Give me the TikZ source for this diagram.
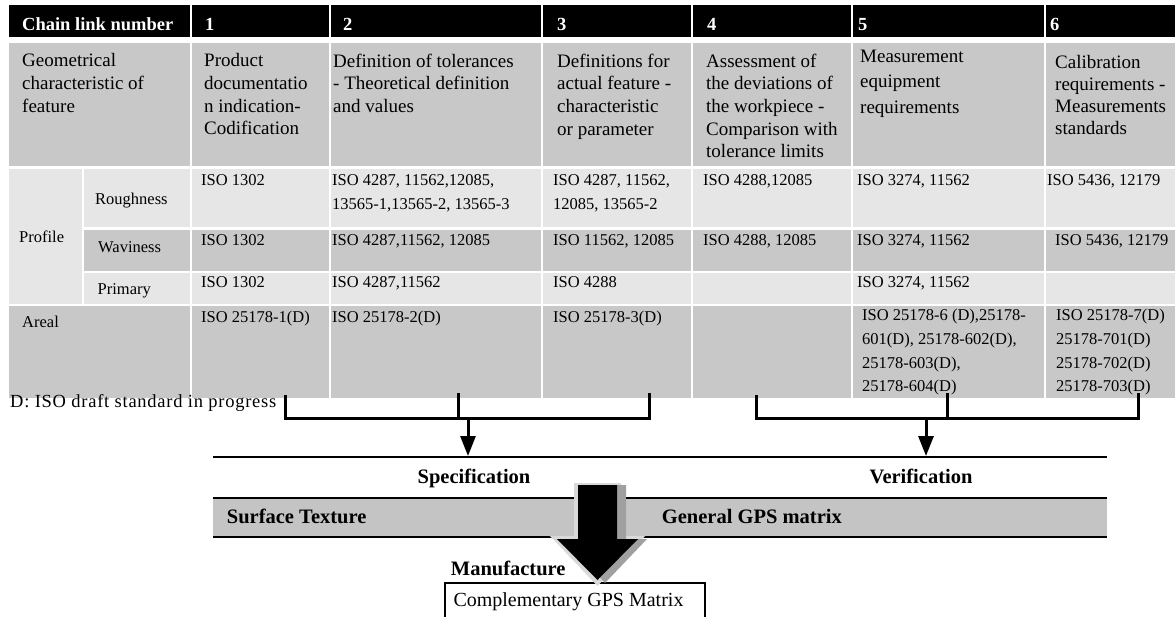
\documentclass[tikz,border=0pt]{standalone}
\usepackage{fontspec}
\setmainfont{Liberation Serif}
\usetikzlibrary{arrows.meta}
\definecolor{gA}{RGB}{200,200,200}
\definecolor{gB}{RGB}{230,230,230}
\definecolor{bandc}{RGB}{196,196,196}
\definecolor{shad}{RGB}{160,160,160}
\begin{document}
\begin{tikzpicture}[x=1pt,y=-1pt,
 hdr/.style={font=\bfseries\fontsize{18.5}{22}\selectfont,text=white,anchor=base west,inner sep=0pt},
 desc/.style={font=\fontsize{19}{22.7}\selectfont,align=left,anchor=north west,inner sep=0pt},
 iso/.style={font=\fontsize{16.5}{23.7}\selectfont,anchor=base west,inner sep=0pt},
 isom/.style={font=\fontsize{16.5}{23.7}\selectfont,align=left,anchor=north west,inner sep=0pt},
 sepline/.style={white,line width=2.5pt},
 brk/.style={line width=3pt},
 arr/.style={line width=3pt,-{Triangle[length=20pt,width=15pt]}},
 btxt/.style={font=\bfseries\fontsize{20.5}{24}\selectfont,inner sep=0pt},
]
\useasboundingbox (0,0) rectangle (1175,616);
\clip (0,0) rectangle (1175,616);
% ---------- table backgrounds
\fill[black] (9,5) rectangle (1175,37);
\fill[gA] (9,43) rectangle (1175,167);
\fill[gB] (9,168.5) rectangle (1175,304.5);
\fill[gA] (83,229) rectangle (1175,271.5);
\fill[gA] (9,305.5) rectangle (1175,398);
% separators
\foreach \x in {191,330,542,692,852,1045} \draw[sepline] (\x,4) -- (\x,399);
\draw[sepline] (83,167) -- (83,305);
\draw[sepline] (83,228.5) -- (1175,228.5);
\draw[sepline] (83,271.8) -- (1175,271.8);
\draw[sepline] (9,305) -- (1175,305);
\draw[sepline] (9,167.6) -- (1175,167.6);
% ---------- header
\node[hdr] (h0) at (22,30.5) {Chain link number};
\node[hdr] (h1) at (205,30.5) {1};
\node[hdr] (h2) at (343,30.5) {2};
\node[hdr] (h3) at (557,30.5) {3};
\node[hdr] (h4) at (707,30.5) {4};
\node[hdr] (h5) at (858,30.5) {5};
\node[hdr] (h6) at (1050,30.5) {6};
% ---------- description row
\node[desc] (d0) at (22,53.5) {Geometrical\\characteristic of\\feature};
\node[desc] (d1) at (204,53.5) {Product\\documentatio\\n indication-\\Codification};
\node[desc] (d2) at (333,53.5) {Definition of tolerances\\- Theoretical definition\\and values};
\node[desc] (d3) at (557,53.5) {Definitions for\\actual feature -\\characteristic\\or parameter};
\node[desc] (d4) at (706,53.5) {Assessment of\\the deviations of\\the workpiece -\\Comparison with\\tolerance limits};
\node[desc,font=\fontsize{19}{25.5}\selectfont] (d5) at (860,49.5) {Measurement\\equipment\\requirements};
\node[desc,font=\fontsize{19}{21.8}\selectfont] (d6) at (1055,55.5) {Calibration\\requirements -\\Measurements\\standards};
% ---------- row labels
\node[iso] (lrough) at (95,204.2) {Roughness};
\node[iso] (lprof) at (19,242.6) {Profile};
\node[iso] (lwav) at (98,252) {Waviness};
\node[iso] (lprim) at (97.5,294) {Primary};
\node[iso] (lareal) at (22,327.5) {Areal};
% ---------- roughness
\node[iso] (r1) at (201,185.5) {ISO 1302};
\node[isom] (r2) at (332,174.2) {ISO 4287, 11562,12085,\\13565-1,13565-2, 13565-3};
\node[isom] (r3) at (553,174.2) {ISO 4287, 11562,\\12085, 13565-2};
\node[iso] (r4) at (703,185.5) {ISO 4288,12085};
\node[iso] (r5) at (857,185.5) {ISO 3274, 11562};
\node[iso] (r6) at (1047,185.5) {ISO 5436, 12179};
% ---------- waviness
\node[iso] (w1) at (201,245) {ISO 1302};
\node[iso] (w2) at (332,245) {ISO 4287,11562, 12085};
\node[iso] (w3) at (553,245) {ISO 11562, 12085};
\node[iso] (w4) at (703,245) {ISO 4288, 12085};
\node[iso] (w5) at (857,245) {ISO 3274, 11562};
\node[iso] (w6) at (1055,245) {ISO 5436, 12179};
% ---------- primary
\node[iso] (p1) at (201,287) {ISO 1302};
\node[iso] (p2) at (332,287) {ISO 4287,11562};
\node[iso] (p3) at (553,287) {ISO 4288};
\node[iso] (p5) at (857,287) {ISO 3274, 11562};
% ---------- areal
\node[iso] (a1) at (201,322) {ISO 25178-1(D)};
\node[iso] (a2) at (332,322) {ISO 25178-2(D)};
\node[iso] (a3) at (553,322) {ISO 25178-3(D)};
\node[isom] (a5) at (862,309) {ISO 25178-6 (D),25178-\\601(D), 25178-602(D),\\25178-603(D),\\25178-604(D)};
\node[isom] (a6) at (1056,309) {ISO 25178-7(D)\\25178-701(D)\\25178-702(D)\\25178-703(D)};
% ---------- footnote
\node[iso,font=\fontsize{18.5}{22}\selectfont\addfontfeature{LetterSpace=4}] (fn) at (10,407.3) {D: ISO draft standard in progress};
% ---------- brackets
\coordinate (b1l) at (285,395);
\coordinate (b1m) at (458,393);
\coordinate (b1r) at (649.5,393);
\coordinate (b1bot) at (285,418.3);
\coordinate (b1end) at (649.5,418.3);
\draw[brk] (b1l) -- (b1bot) -- (b1end) -- (b1r);
\draw[brk] (b1m) -- (b1m |- b1bot);
\coordinate (b2l) at (756,395);
\coordinate (b2m) at (947,393);
\coordinate (b2r) at (1138,393);
\coordinate (b2bot) at (756,418.3);
\coordinate (b2end) at (1138,418.3);
\draw[brk] (b2l) -- (b2bot) -- (b2end) -- (b2r);
\draw[brk] (b2m) -- (b2m |- b2bot);
\coordinate (a1s) at (468,418.3);
\coordinate (a1e) at (468,456);
\coordinate (a2s) at (926,418.3);
\coordinate (a2e) at (926,456);
\draw[arr] (a1s) -- (a1e);
\draw[arr] (a2s) -- (a2e);
% ---------- line and band
\coordinate (hl) at (213,457);
\coordinate (hr) at (1107,457);
\draw[line width=2pt] (hl) -- (hr);
\node[btxt,anchor=base] (spec) at (474,483.3) {Specification};
\node[btxt,anchor=base] (verif) at (921,483.3) {Verification};
\fill[bandc] (213,498) rectangle (1107,537);
\draw[line width=2pt] (213,498) -- (1107,498);
\draw[line width=2pt] (213,537) -- (1107,537);
\node[btxt,anchor=base west] (surf) at (226.7,523.3) {Surface Texture};
\node[btxt,anchor=base west] (gen) at (661.7,523.3) {General GPS matrix};
% ---------- complementary box
\draw[line width=2.5pt] (445,630) -- (445,583) -- (705,583) -- (705,630);
\node[anchor=base west,inner sep=0pt,font=\fontsize{20}{24}\selectfont] (comp) at (453.3,606.7) {Complementary GPS Matrix};
\node[btxt,anchor=base west] (manu) at (450.7,575) {Manufacture};
% ---------- big arrow with shadow
\fill[gray!30] (574,483) -- (621,483) -- (621,536) -- (645,536) -- (597.5,586) -- (550,536) -- (574,536) -- cycle;
\fill[shad] (585,485) -- (626,485) -- (626,539) -- (647,539) -- (605,583) -- (565,539) -- (585,539) -- cycle;
\fill[black] (578,485) -- (617,485) -- (617,539) -- (638,539) -- (597.5,580) -- (557,539) -- (578,539) -- cycle;
\end{tikzpicture}
\end{document}
